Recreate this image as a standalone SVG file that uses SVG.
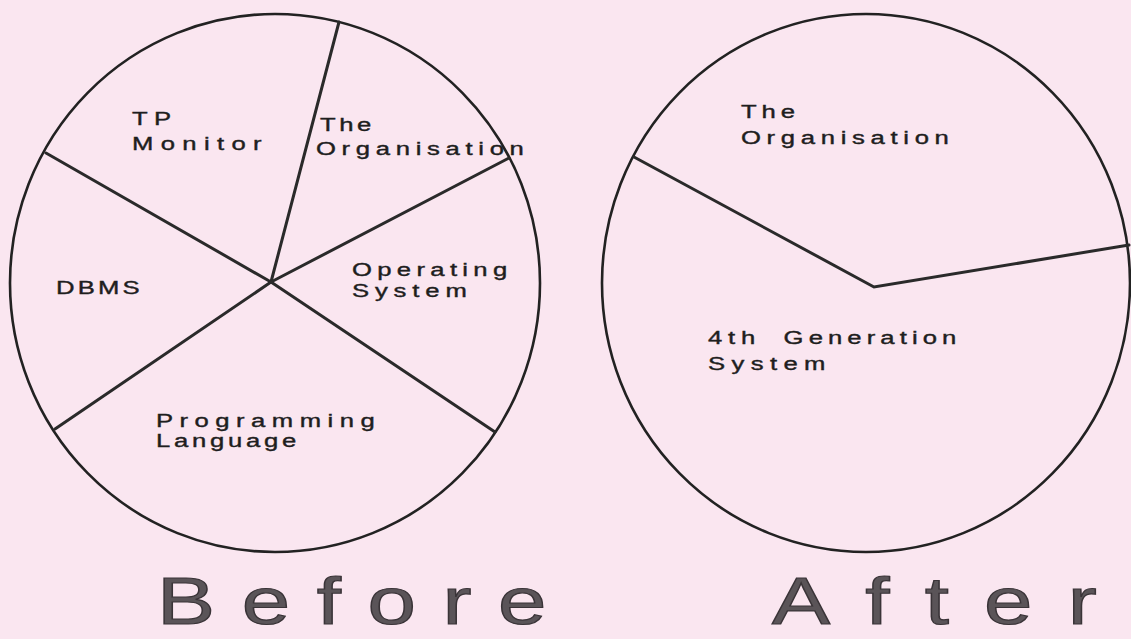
<svg xmlns="http://www.w3.org/2000/svg" width="1131" height="639" viewBox="0 0 1131 639">
<style>
.bg{fill:#fae6f0}
.pie{fill:none;stroke:#222;stroke-width:2.6}
.spoke{stroke:#2a2a2a;stroke-width:3;stroke-linecap:round;fill:none}
.lbl{font-family:"Liberation Sans",Arial,sans-serif;font-size:19px;fill:#1e1e1e;stroke:#1e1e1e;stroke-width:0.4}
.title{font-family:"Liberation Sans",Arial,sans-serif;font-size:66px;fill:#5a5458;stroke:#3a3438;stroke-width:1.2}
</style>
<rect class="bg" x="0" y="0" width="1131" height="639"/>
<g id="before-pie">
<ellipse class="pie" cx="275" cy="283" rx="265" ry="269"/>
</g>
<g id="after-pie">
<ellipse class="pie" cx="866" cy="283" rx="264" ry="269"/>
</g>
<g id="connectors">
<line class="spoke" x1="271" y1="282" x2="339" y2="22"/>
<line class="spoke" x1="271" y1="282" x2="46" y2="153"/>
<line class="spoke" x1="271" y1="282" x2="509" y2="158"/>
<line class="spoke" x1="271" y1="282" x2="55" y2="429"/>
<line class="spoke" x1="271" y1="282" x2="495" y2="432"/>
<polyline class="spoke" points="634,157 874,287 1129,245"/>
</g>
<g id="tp-monitor">
<text class="lbl" transform="translate(132,125) scale(1.35,1)" textLength="29" lengthAdjust="spacing">TP</text>
<text class="lbl" transform="translate(132,150) scale(1.35,1)" textLength="96" lengthAdjust="spacing">Monitor</text>
</g>
<g id="organisation-before">
<text class="lbl" transform="translate(320,131) scale(1.35,1)" textLength="38" lengthAdjust="spacing">The</text>
<text class="lbl" transform="translate(316,155) scale(1.35,1)" textLength="154" lengthAdjust="spacing">Organisation</text>
</g>
<g id="dbms">
<text class="lbl" transform="translate(56,294) scale(1.35,1)" textLength="62" lengthAdjust="spacing">DBMS</text>
</g>
<g id="operating-system">
<text class="lbl" transform="translate(352,276) scale(1.35,1)" textLength="115" lengthAdjust="spacing">Operating</text>
<text class="lbl" transform="translate(352,297) scale(1.35,1)" textLength="85" lengthAdjust="spacing">System</text>
</g>
<g id="programming-language">
<text class="lbl" transform="translate(156,427) scale(1.35,1)" textLength="162" lengthAdjust="spacing">Programming</text>
<text class="lbl" transform="translate(156,447) scale(1.35,1)" textLength="104" lengthAdjust="spacing">Language</text>
</g>
<g id="organisation-after">
<text class="lbl" transform="translate(741,118) scale(1.35,1)" textLength="40" lengthAdjust="spacing">The</text>
<text class="lbl" transform="translate(741,144) scale(1.35,1)" textLength="154" lengthAdjust="spacing">Organisation</text>
</g>
<g id="fourth-gen">
<text class="lbl" transform="translate(708,344) scale(1.35,1)"><tspan x="0" textLength="35" lengthAdjust="spacing">4th</tspan><tspan x="56" textLength="128" lengthAdjust="spacing">Generation</tspan></text>
<text class="lbl" transform="translate(708,370) scale(1.35,1)" textLength="87" lengthAdjust="spacing">System</text>
</g>
<g id="titles">
<text class="title" transform="translate(157,624) scale(1.32,1)" textLength="295" lengthAdjust="spacing">Before</text>
<text class="title" transform="translate(772,624) scale(1.32,1)" textLength="246" lengthAdjust="spacing">After</text>
</g>
</svg>
